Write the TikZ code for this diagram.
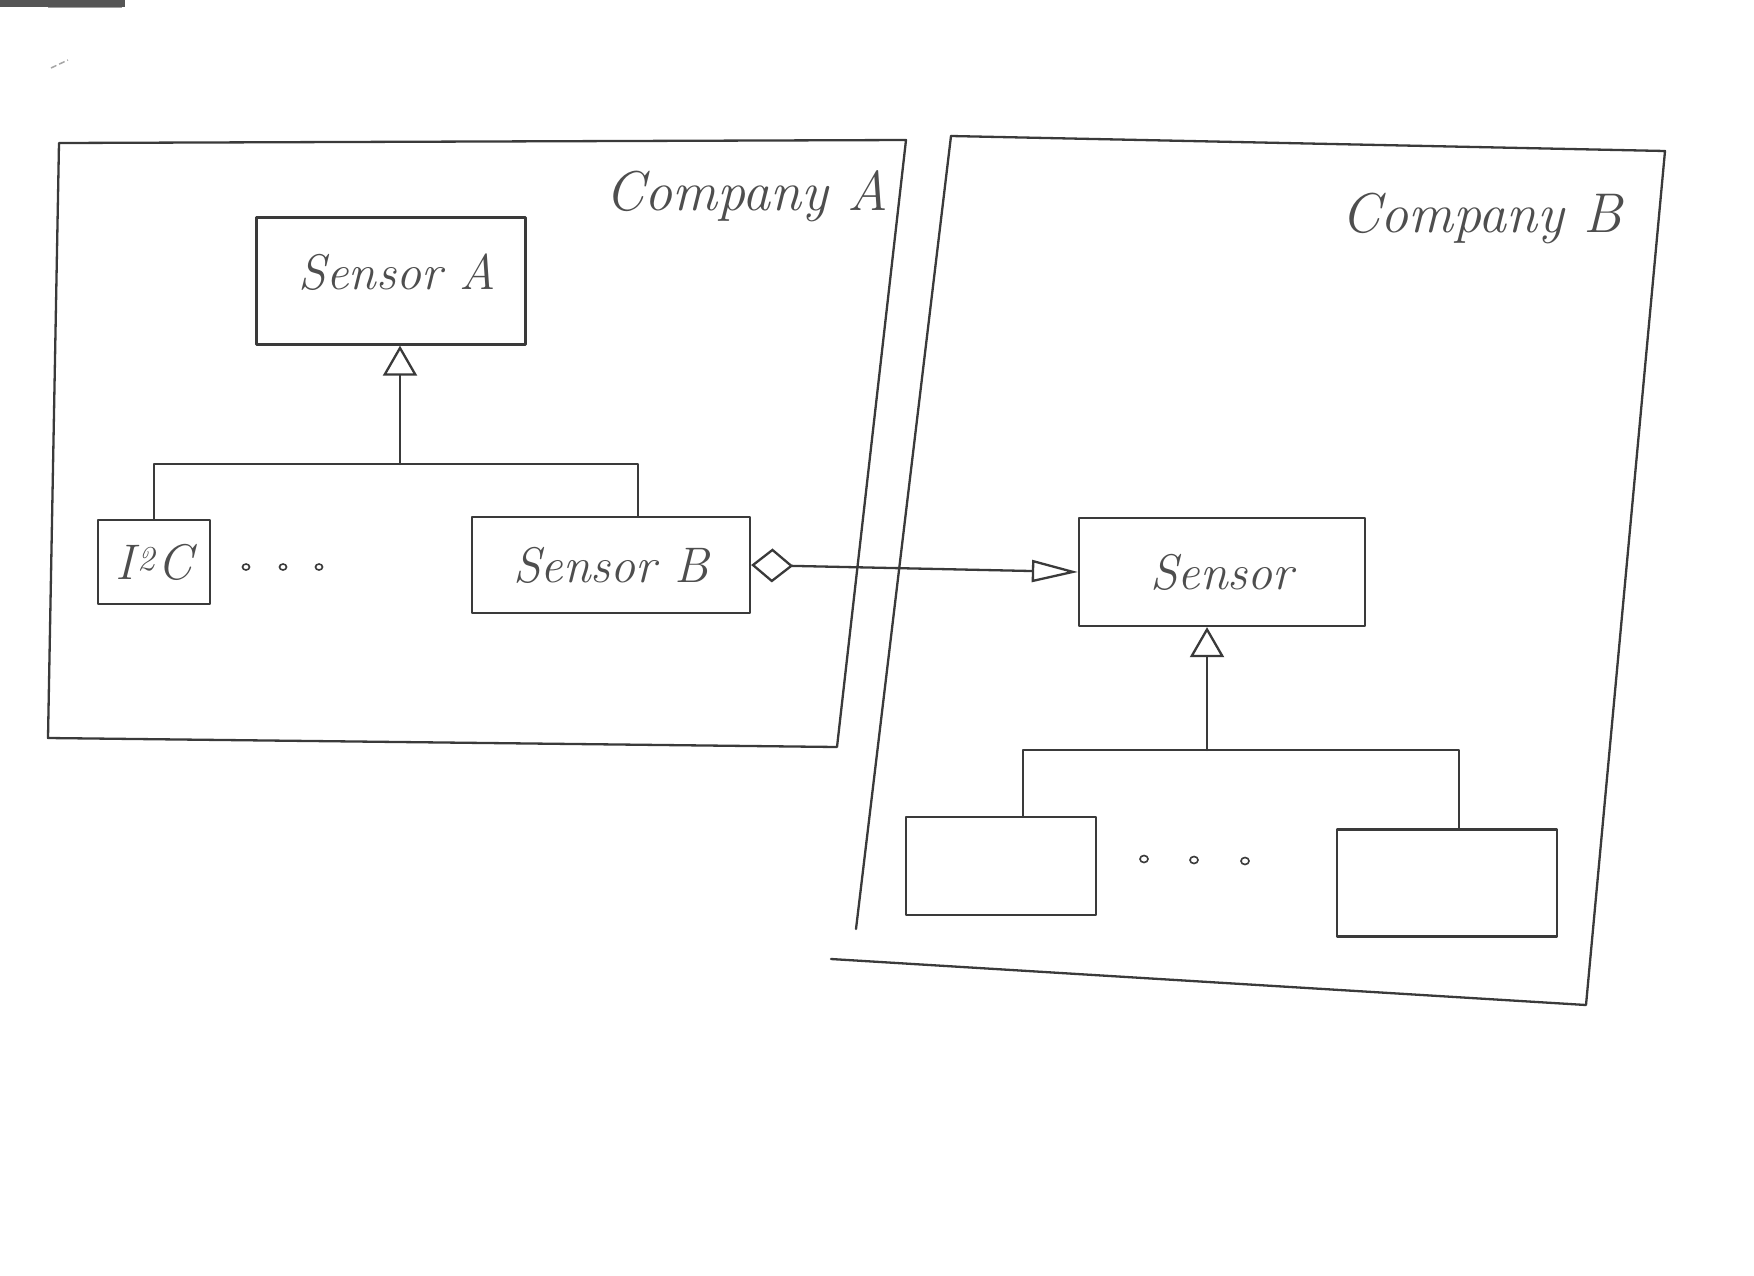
\documentclass[tikz,border=0pt]{standalone}
\usetikzlibrary{arrows.meta,calc}
\definecolor{ink}{HTML}{3A3A3A}
\definecolor{scanbar}{HTML}{555555}
\begin{document}
\begin{tikzpicture}[x=1pt,y=-1pt,
  pen/.style={draw=ink,line width=2.3pt,line cap=round,line join=round},
  classbox/.style={pen,rectangle,inner sep=0pt},
  hand/.style={text=ink!90,font=\fontsize{50}{60}\selectfont\itshape},
  inherit/.style={pen,-{Triangle[open,length=30pt,width=34pt]}},
  assoc/.style={pen,{Diamond[open,length=42pt,width=34pt]}-{Triangle[open,length=46pt,width=22pt]}},
  dot/.style={draw=ink,line width=1.6pt}]
\useasboundingbox (0,0) rectangle (1754,1275);
\fill[white] (0,0) rectangle (1754,1275);

% scanner edge in the top corner
\fill[scanbar] (0,0) rectangle (125,7);
\draw[ink!50,line width=1.5pt] (48,7.5) -- (122,7.5);
\draw[ink!45,line width=1.5pt,dash pattern=on 6pt off 3pt] (51,68) -- (68,60);

% package frames
\draw[pen] (59,143) -- (906,140) -- (837,747) -- (48,738) -- cycle;
\draw[pen] (951,136) -- (1665,151) -- (1586,1005) -- (831,959);
\draw[pen] (951,136) -- (856,929);
\node[hand,font=\fontsize{56}{66}\selectfont\itshape] (compA) at (747,196) {Company A};
\node[hand,font=\fontsize{56}{66}\selectfont\itshape] (compB) at (1482,218) {Company B};

% Company A classes
\node[classbox,minimum width=269pt,minimum height=127pt] (SA) at (391,281) {};
\node[hand] (SAt) at (397,272) {Sensor A};
\node[classbox,minimum width=112pt,minimum height=84pt,hand] (I2C) at (154,562) {I\kern4pt\textsuperscript{2}\kern2pt C};
\node[classbox,minimum width=278pt,minimum height=96pt,hand] (SB) at (611,565) {Sensor B};
\draw[dot] (246,567) circle[x radius=3.5pt,y radius=3pt];
\draw[dot] (283,567) circle[x radius=3.5pt,y radius=3pt];
\draw[dot] (319,567) circle[x radius=3.5pt,y radius=3pt];

% Company A inheritance tree
\coordinate (barA) at (400,464);
\coordinate (sbTop) at ($(SB.north)+(27,0)$);
\coordinate (aLeft) at (I2C.north |- barA);
\coordinate (aRight) at (sbTop |- barA);
\draw[pen] (I2C.north) -- (aLeft) -- (aRight) -- (sbTop);
\draw[inherit] (barA) -- (barA |- SA.south);

% Company B classes
\node[classbox,minimum width=286pt,minimum height=108pt,hand] (S) at (1222,572) {Sensor};
\node[classbox,minimum width=190pt,minimum height=98pt] (L) at (1001,866) {};
\node[classbox,minimum width=220pt,minimum height=107pt] (R) at (1447,883) {};
\draw[dot] (1144,859) circle[x radius=4pt,y radius=3.5pt];
\draw[dot] (1194,860) circle[x radius=4pt,y radius=3.5pt];
\draw[dot] (1245,861) circle[x radius=4pt,y radius=3.5pt];

% Company B inheritance tree
\coordinate (barB) at (1207,750);
\coordinate (lTop) at ($(L.north)+(22,0)$);
\coordinate (rTop) at ($(R.north)+(12,0)$);
\coordinate (bLeft) at (lTop |- barB);
\coordinate (bRight) at (rTop |- barB);
\draw[pen] (lTop) -- (bLeft) -- (bRight) -- (rTop);
\draw[inherit] (barB) -- (barB |- S.south);

% aggregation across the packages
\draw[assoc] (SB.east) -- (S.west);
\end{tikzpicture}
\end{document}
